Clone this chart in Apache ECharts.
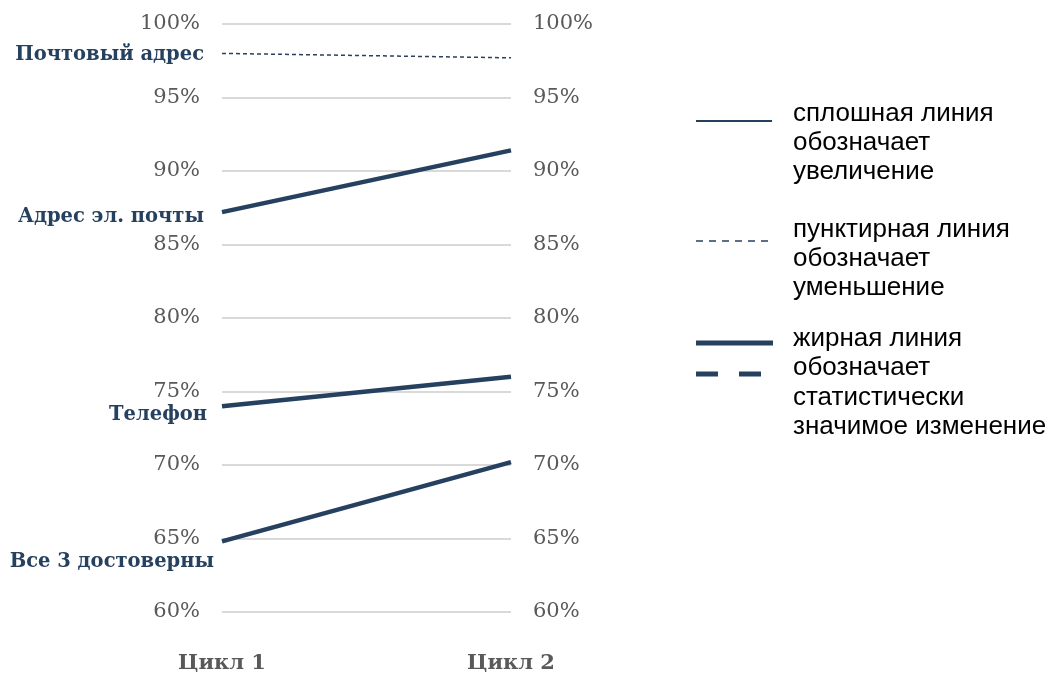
<!DOCTYPE html>
<html>
<head>
<meta charset="utf-8">
<script src="https://cdn.jsdelivr.net/npm/echarts@6/dist/echarts.min.js"></script>
<style>
  html, body { margin: 0; padding: 0; background: #ffffff; }
  #chart { width: 1056px; height: 674px; }
</style>
</head>
<body>
<div id="chart"></div>
<script>
// Survey cycles on the x axis
const cycles = ['Цикл 1', 'Цикл 2'];

// Share of respondents with reliable contact data, percent
const postalAddress = [98.0, 97.7];
const emailAddress = [87.2, 91.4];
const phone = [74.0, 76.0];
const allThree = [64.8, 70.2];

// Y-axis ticks
const yMin = 60;
const yMax = 100;
const yStep = 5;

const NAVY = '#26405F';
const GREY = '#595959';
const SERIF = '"DejaVu Serif", "Liberation Serif", serif';
const SANS = '"Liberation Sans", Arial, sans-serif';

function seriesLine(name, values, width, dash, labelOffset) {
  return {
    name: name,
    type: 'line',
    data: values.map(function (v, i) {
      return i === 0
        ? { value: v, label: { show: true } }
        : { value: v };
    }),
    symbol: 'circle',
    symbolSize: 0,
    silent: true,
    lineStyle: { color: NAVY, width: width, type: dash, cap: 'butt' },
    itemStyle: { color: NAVY },
    label: {
      show: false,
      position: 'left',
      distance: 18,
      offset: labelOffset,
      formatter: name,
      color: NAVY,
      fontFamily: SERIF,
      fontWeight: 'bold',
      fontSize: 19.5
    },
    z: 5
  };
}

const chart = echarts.init(document.getElementById('chart'), null, { renderer: 'canvas' });

const yAxisBase = {
  type: 'value',
  min: yMin,
  max: yMax,
  interval: yStep,
  axisLine: { show: false },
  axisTick: { show: false },
  axisLabel: {
    formatter: '{value}%',
    color: GREY,
    fontFamily: SERIF,
    fontSize: 21,
    margin: 22
  }
};

chart.setOption({
  animation: false,
  backgroundColor: '#ffffff',
  grid: { left: 222, right: 545, top: 24, bottom: 61, containLabel: false },
  xAxis: {
    type: 'category',
    data: cycles,
    boundaryGap: false,
    axisLine: { show: false },
    axisTick: { show: false },
    axisLabel: {
      color: GREY,
      fontFamily: SERIF,
      fontWeight: 'bold',
      fontSize: 21,
      margin: 41
    }
  },
  yAxis: [
    Object.assign({}, yAxisBase, {
      position: 'left',
      splitLine: { show: true, lineStyle: { color: '#D9D9D9', width: 2 } }
    }),
    Object.assign({}, yAxisBase, {
      position: 'right',
      splitLine: { show: false }
    })
  ],
  series: [
    seriesLine('Почтовый адрес', postalAddress, 1.5, [4, 3], [0, 2]),
    seriesLine('Адрес эл. почты', emailAddress, 4.5, 'solid', [0, 5]),
    seriesLine('Телефон', phone, 4.5, 'solid', [3, 9]),
    seriesLine('Все 3 достоверны', allThree, 4.5, 'solid', [10, 20])
  ],
  graphic: [
    // line-style key
    { type: 'line', silent: true, shape: { x1: 696, y1: 121, x2: 772, y2: 121 },
      style: { stroke: NAVY, lineWidth: 2 } },
    { type: 'text', silent: true, left: 793, top: 99,
      style: { text: 'сплошная линия\nобозначает\nувеличение', font: '26px ' + SANS, fill: '#000000', lineHeight: 29 } },

    { type: 'line', silent: true, shape: { x1: 696, y1: 241, x2: 772, y2: 241 },
      style: { stroke: NAVY, lineWidth: 1.5, lineDash: [7, 6] } },
    { type: 'text', silent: true, left: 793, top: 215,
      style: { text: 'пунктирная линия\nобозначает\nуменьшение', font: '26px ' + SANS, fill: '#000000', lineHeight: 29 } },

    { type: 'line', silent: true, shape: { x1: 696, y1: 343, x2: 773, y2: 343 },
      style: { stroke: NAVY, lineWidth: 5 } },
    { type: 'line', silent: true, shape: { x1: 696, y1: 374, x2: 762, y2: 374 },
      style: { stroke: NAVY, lineWidth: 5, lineDash: [22, 21] } },
    { type: 'text', silent: true, left: 793, top: 324,
      style: { text: 'жирная линия\nобозначает\nстатистически\nзначимое изменение', font: '26px ' + SANS, fill: '#000000', lineHeight: 29.5 } }
  ]
});
</script>
</body>
</html>
